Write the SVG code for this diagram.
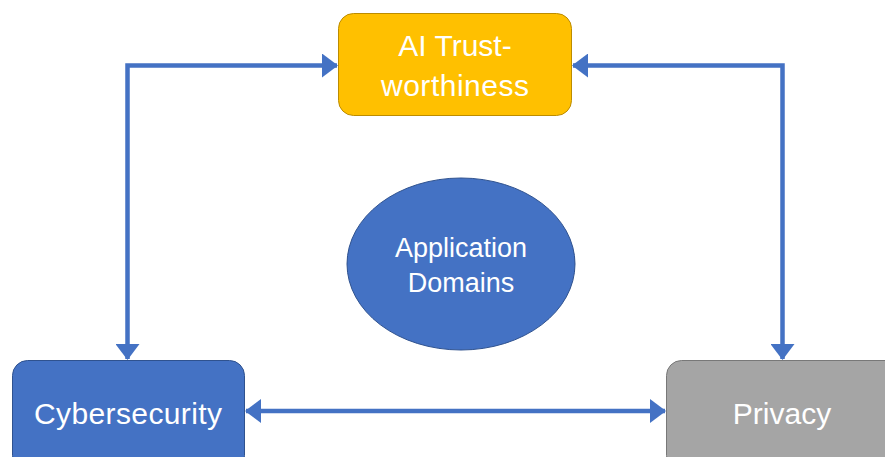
<svg xmlns="http://www.w3.org/2000/svg" width="885" height="457" viewBox="0 0 885 457">
  <defs>
    <style>
      .lbl { font-family: "Liberation Sans", Arial, sans-serif; fill: #ffffff; text-anchor: middle; }
      .box { font-size: 30px; }
      .ell { font-size: 27px; }
      .wire { fill: none; stroke: #4472C4; stroke-width: 4.5; }
    </style>
    <marker id="head" viewBox="0 0 16 24" refX="15" refY="12" markerUnits="userSpaceOnUse" markerWidth="16" markerHeight="24" orient="auto-start-reverse">
      <path d="M0,0 L16,12 L0,24 Z" fill="#4472C4"/>
    </marker>
  </defs>
  <rect width="885" height="457" fill="#ffffff"/>

  <g id="connectors">
    <!-- Cybersecurity <-> AI Trustworthiness -->
    <polyline class="wire" points="127.5,359 127.5,65.5 337,65.5" marker-start="url(#head)" marker-end="url(#head)"/>
    <!-- AI Trustworthiness <-> Privacy -->
    <polyline class="wire" points="573,65.5 782.5,65.5 782.5,359" marker-start="url(#head)" marker-end="url(#head)"/>
    <!-- Cybersecurity <-> Privacy -->
    <line class="wire" x1="246" y1="411" x2="665" y2="411" marker-start="url(#head)" marker-end="url(#head)"/>
  </g>

  <g id="ai-trustworthiness">
    <rect x="338.5" y="13.5" width="233" height="102" rx="15" fill="#FFC000" stroke="#BC8C00" stroke-width="1"/>
    <text class="lbl box" x="455" y="56">AI Trust-</text>
    <text class="lbl box" x="455" y="96" textLength="148">worthiness</text>
  </g>

  <g id="application-domains">
    <ellipse cx="461" cy="264" rx="114" ry="86" fill="#4472C4" stroke="#2F528F" stroke-width="1"/>
    <text class="lbl ell" x="461" y="257">Application</text>
    <text class="lbl ell" x="461" y="292">Domains</text>
  </g>

  <g id="cybersecurity">
    <rect x="12.5" y="360.5" width="232" height="110" rx="15" fill="#4472C4" stroke="#2F528F" stroke-width="1"/>
    <text class="lbl box" x="128" y="424" textLength="188">Cybersecurity</text>
  </g>

  <g id="privacy">
    <rect x="666.5" y="360.5" width="240" height="110" rx="15" fill="#A5A5A5" stroke="#787878" stroke-width="1"/>
    <text class="lbl box" x="782" y="424">Privacy</text>
  </g>
</svg>
